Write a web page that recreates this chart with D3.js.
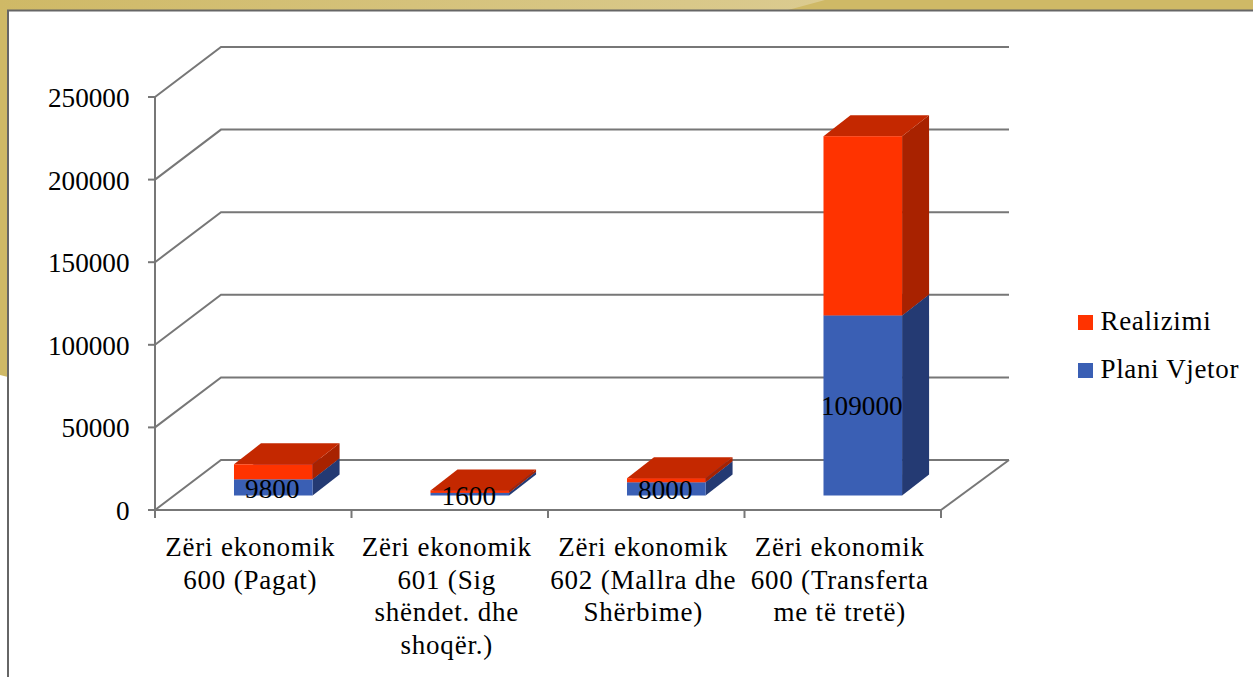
<!DOCTYPE html>
<html>
<head>
<meta charset="utf-8">
<script src="https://cdn.jsdelivr.net/npm/d3@7"></script>
<style>
  html, body { margin: 0; padding: 0; background: #fff; overflow: hidden; }
  text { font-family: "Liberation Serif", serif; fill: #000; }
  .wide { letter-spacing: 0.8px; }
</style>
</head>
<body>
<script>
var categories = [
  ["Zëri ekonomik", "600 (Pagat)"],
  ["Zëri ekonomik", "601 (Sig", "shëndet. dhe", "shoqër.)"],
  ["Zëri ekonomik", "602 (Mallra dhe", "Shërbime)"],
  ["Zëri ekonomik", "600 (Transferta", "me të tretë)"]
];
var planiVjetor = [9800, 1600, 8000, 109000];
var realizimi = [9100, 1500, 2500, 108500];
var valueLabels = ["9800", "1600", "8000", "109000"];
var yTicks = [0, 50000, 100000, 150000, 200000, 250000];

var width = 1253, height = 677;
var digitSize = 27.2, textSize = 27;

var svg = d3.select("body").append("svg")
    .attr("width", width)
    .attr("height", height);

// slide background behind the chart
var grad = svg.append("defs").append("linearGradient").attr("id", "shine");
grad.append("stop").attr("offset", "0").attr("stop-color", "#cfb966");
grad.append("stop").attr("offset", "1").attr("stop-color", "#dbcb90");
svg.append("rect").attr("x", 0).attr("y", 0).attr("width", width).attr("height", 10).attr("fill", "#cfb966");
svg.append("path").attr("d", "M0,0H8V377L0,375Z").attr("fill", "#cfb966");
svg.append("path").attr("d", "M0,0H825L788,10H0Z").attr("fill", "url(#shine)");
svg.append("path").attr("d", "M8,677V10.5H1253").attr("fill", "none").attr("stroke", "#666").attr("stroke-width", 2);

// depth of the 3d walls and of the bars
var wallDx = 66, wallDy = -50;
var barDx = 27, barDy = -21;

var y = d3.scaleLinear().domain([0, 250000]).range([510, 97]);
var tickX = d3.scaleLinear().domain([0, 4]).range([155, 941]);
var x = d3.scaleBand().domain(d3.range(4)).range([155, 941])
    .paddingInner(0.6).paddingOuter(0.3).align(0.67);

var gridColor = "#777";

// gridlines along back wall plus side wall
svg.selectAll(".grid").data(yTicks).enter().append("path")
    .attr("class", "grid")
    .attr("fill", "none")
    .attr("stroke", gridColor)
    .attr("stroke-width", 2)
    .attr("d", function(d){
      return "M" + tickX(0) + "," + y(d) + "L" + (tickX(0) + wallDx) + "," + (y(d) + wallDy) + "H1009";
    });

// floor edge on right side
svg.append("path")
    .attr("fill", "none")
    .attr("stroke", gridColor)
    .attr("stroke-width", 2)
    .attr("d", "M" + tickX(4) + "," + y(0) + "L" + (tickX(4) + 68) + "," + (y(0) + wallDy));

// axes
svg.append("path")
    .attr("fill", "none")
    .attr("stroke", gridColor)
    .attr("stroke-width", 2)
    .attr("d", "M" + tickX(0) + "," + y(250000) + "V" + y(0) + "H" + tickX(4));

svg.selectAll(".ytick").data(yTicks).enter().append("line")
    .attr("class", "ytick")
    .attr("x1", tickX(0) - 7).attr("x2", tickX(0))
    .attr("y1", function(d){ return y(d); })
    .attr("y2", function(d){ return y(d); })
    .attr("stroke", gridColor).attr("stroke-width", 2);

svg.selectAll(".xtick").data(d3.range(5)).enter().append("line")
    .attr("class", "xtick")
    .attr("x1", function(d){ return tickX(d); })
    .attr("x2", function(d){ return tickX(d); })
    .attr("y1", y(0)).attr("y2", y(0) + 8)
    .attr("stroke", gridColor).attr("stroke-width", 2);

svg.selectAll(".ylabel").data(yTicks).enter().append("text")
    .attr("class", "ylabel")
    .attr("x", 129.5)
    .attr("y", function(d){ return y(d) + 10; })
    .attr("text-anchor", "end")
    .attr("font-size", digitSize)
    .text(function(d){ return d; });

// one box of a stacked bar: right side, top, then front
function drawBox(i, v0, v1, front, side, top){
  var base = 14.5;
  var x0 = x(i), x1 = x(i) + x.bandwidth();
  var y0 = y(v0) - base, y1 = y(v1) - base;
  var g = svg.append("g");
  g.append("path").attr("fill", side)
      .attr("d", "M" + x1 + "," + y0 + "V" + y1 + "l" + barDx + "," + barDy + "V" + (y0 + barDy) + "Z");
  g.append("path").attr("fill", top)
      .attr("d", "M" + x0 + "," + y1 + "l" + barDx + "," + barDy + "H" + (x1 + barDx) + "L" + x1 + "," + y1 + "Z");
  g.append("rect").attr("x", x0).attr("y", y1).attr("width", x1 - x0).attr("height", y0 - y1).attr("fill", front);
}

planiVjetor.forEach(function(p, i){
  drawBox(i, 0, p, "#3a5fb4", "#243a73", "#2f4d94");
  drawBox(i, p, p + realizimi[i], "#ff3300", "#a82200", "#c42800");
});

// value labels sit on top of the blue boxes
svg.selectAll(".vlabel").data(valueLabels).enter().append("text")
    .attr("class", "vlabel")
    .attr("x", function(d, i){ return x(i) + x.bandwidth() / 2 - 1; })
    .attr("y", function(d, i){
      return i == 3 ? 415 : [498, 505, 499][i];
    })
    .attr("text-anchor", "middle")
    .attr("font-size", digitSize)
    .text(function(d){ return d; });

// category labels
categories.forEach(function(lines, i){
  var t = svg.append("text")
      .attr("class", "wide")
      .attr("x", tickX(i + 0.5) - 3)
      .attr("y", 556)
      .attr("text-anchor", "middle")
      .attr("font-size", textSize);
  lines.forEach(function(l, j){
    t.append("tspan")
        .attr("x", t.attr("x"))
        .attr("dy", j == 0 ? 0 : 32.5)
        .text(l);
  });
});

// legend
var legendNames = ["Realizimi", "Plani Vjetor"];
var legendColors = ["#ff3300", "#3a5fb4"];
var legend = svg.selectAll(".legend").data(legendNames).enter().append("g")
    .attr("class", "legend")
    .attr("transform", function(d, i){ return "translate(1078," + (315 + i * 48) + ")"; });
legend.append("rect").attr("width", 15).attr("height", 15)
    .attr("fill", function(d, i){ return legendColors[i]; });
legend.append("text").attr("x", 22.5).attr("y", 15)
    .attr("font-size", textSize)
    .style("letter-spacing", "0.65px")
    .text(function(d){ return d; });
</script>
</body>
</html>
